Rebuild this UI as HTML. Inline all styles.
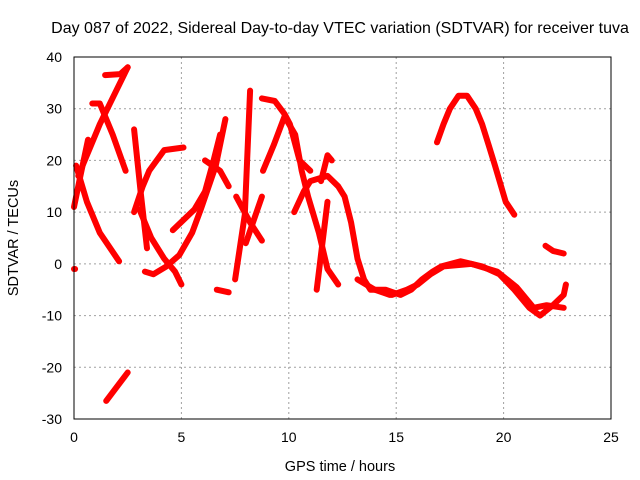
<!DOCTYPE html>
<html><head><meta charset="utf-8"><style>
body{margin:0;background:#fff;}
svg{display:block;font-family:"Liberation Sans",sans-serif;}
</style></head><body>
<svg id="chart" width="640" height="480">
<rect x="0" y="0" width="640" height="480" fill="#fff"/>
<text x="340" y="33" font-size="16" text-anchor="middle" fill="#000">Day 087 of 2022, Sidereal Day-to-day VTEC variation (SDTVAR) for receiver tuva</text>
<text x="340" y="471" font-size="14.5" text-anchor="middle" fill="#000">GPS time / hours</text>
<text x="18" y="238" font-size="14.5" text-anchor="middle" fill="#000" transform="rotate(-90 18 238)">SDTVAR / TECUs</text>
<g id="grid"></g>
<g id="series"></g>
<rect x="74" y="57" width="537" height="362" fill="none" stroke="#000" stroke-width="1"/>
<g id="ticks"></g>
</svg>
<script>
const xTicks = [0, 5, 10, 15, 20, 25];
const yTicks = [-30, -20, -10, 0, 10, 20, 30, 40];
const track1 = [[0,11],[0.3,17],[0.65,24]];
const track2 = [[0.1,19],[0.6,12],[1.2,6],[2.1,0.5]];
const track3 = [[0.2,17],[1.2,27],[2.5,38]];
const track4 = [[0.85,31],[1.2,31],[1.8,25],[2.4,18]];
const track5 = [[1.45,36.5],[2.15,36.7],[2.5,38]];
const track6 = [[1.5,-26.5],[2.5,-21]];
const track7 = [[2.8,26],[3.1,14],[3.4,3]];
const track8 = [[2.8,10],[3.2,15],[3.5,18],[4.2,22],[5.1,22.5]];
const track9 = [[3.05,10.5],[3.6,5],[4.2,1],[4.7,-1.5],[5.0,-4]];
const track10 = [[3.3,-1.5],[3.7,-2],[4.3,-0.5],[4.9,1.7],[5.5,6],[5.9,10.5],[6.6,19],[7.05,28]];
const track11 = [[4.6,6.5],[5.6,10.5],[6.1,14],[6.5,20],[6.8,25]];
const track12 = [[6.1,20],[6.8,18],[7.2,15]];
const track13 = [[6.65,-5],[7.2,-5.5]];
const track14 = [[7.5,-3],[7.95,9.5],[8.2,33.5]];
const track15 = [[7.55,13],[8.2,8],[8.75,4.5]];
const track16 = [[8.0,4],[8.75,13]];
const track17 = [[8.75,32],[9.35,31.5],[9.8,29],[10.05,27],[10.5,20],[11,18]];
const track18 = [[8.8,18],[9.3,23],[9.8,28.5],[10.3,25],[10.6,18],[10.9,13],[11.4,6],[11.8,-1],[12.3,-4]];
const track19 = [[10.25,10],[10.7,14],[11,16],[11.8,17],[12.3,15],[12.6,13],[12.9,8],[13.2,1],[13.5,-3],[13.8,-5],[14.5,-5],[15.2,-6],[15.7,-5],[16.2,-3],[16.7,-1.5],[17.1,-0.5],[18,0.5],[19,-0.5],[19.8,-2],[20.5,-5],[21.2,-8.5],[21.7,-10],[22.3,-8],[22.8,-6],[22.9,-4]];
const track20 = [[14.8,-6],[15.5,-5],[16,-4],[16.6,-2],[17.2,-0.5],[18.5,0],[19.7,-1.5],[20.6,-4.5],[21.4,-8.5],[22,-8],[22.8,-8.5]];
const track21 = [[11.5,16],[11.8,21],[12.0,20]];
const track22 = [[11.3,-5],[11.8,12]];
const track23 = [[16.9,23.5],[17.2,27],[17.5,30],[17.9,32.5],[18.3,32.5],[18.7,30],[19,27],[19.3,23],[19.6,19],[20.1,12],[20.5,9.5]];
const track24 = [[21.95,3.5],[22.3,2.5],[22.8,2]];
const track25 = [[13.2,-3],[14,-5],[14.7,-6]];
const track26 = [[0,-1],[0.05,-1]];
const tracks = [track1,track2,track3,track4,track5,track6,track7,track8,track9,track10,track11,track12,track13,track14,track15,track16,track17,track18,track19,track20,track21,track22,track23,track24,track25,track26];

const NS='http://www.w3.org/2000/svg';
const L=74,R=611,T=57,B=419;
function sx(h){return L+(h-0)/(25-0)*(R-L);}
function sy(v){return B-(v+30)/(70)*(B-T);}
const grid=document.getElementById('grid'), ticks=document.getElementById('ticks'), ser=document.getElementById('series');
xTicks.forEach(t=>{
  const x=sx(t);
  if(t>0&&t<25){const g=document.createElementNS(NS,'line');
    
    
    g.setAttribute('x1',x);g.setAttribute('x2',x);g.setAttribute('y1',T);g.setAttribute('y2',B);
    g.setAttribute('stroke','#a0a0a0');g.setAttribute('stroke-dasharray','2,3');grid.appendChild(g);}
  const tx=document.createElementNS(NS,'text');
  
  
  tx.setAttribute('x',x);tx.setAttribute('y',B+23);tx.setAttribute('font-size','14');tx.setAttribute('text-anchor','middle');
  tx.textContent=t;ticks.appendChild(tx);
});
yTicks.forEach(t=>{
  const y=sy(t);
  if(t>-30&&t<40){const g=document.createElementNS(NS,'line');
    
    
    g.setAttribute('x1',L);g.setAttribute('x2',R);g.setAttribute('y1',y);g.setAttribute('y2',y);
    g.setAttribute('stroke','#a0a0a0');g.setAttribute('stroke-dasharray','2,3');grid.appendChild(g);}
  const tx=document.createElementNS(NS,'text');
  
  
  tx.setAttribute('x',L-12);tx.setAttribute('y',y+5);tx.setAttribute('font-size','14');tx.setAttribute('text-anchor','end');
  tx.textContent=t;ticks.appendChild(tx);
});
tracks.forEach(tr=>{
  const p=document.createElementNS(NS,'polyline');
  
  
  p.setAttribute('points',tr.map(d=>sx(d[0]).toFixed(1)+','+sy(d[1]).toFixed(1)).join(' '));
  p.setAttribute('fill','none');p.setAttribute('stroke','#ff0000');p.setAttribute('stroke-width','6');
  p.setAttribute('stroke-linejoin','round');p.setAttribute('stroke-linecap','round');
  ser.appendChild(p);
});
</script>
</body></html>
